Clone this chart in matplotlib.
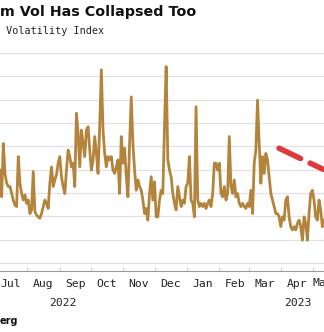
import matplotlib
matplotlib.use("Agg")
import numpy as np
import pandas as pd
import matplotlib.pyplot as plt
import matplotlib.dates as mdates

# index level, evenly spaced from early Jul 2022 to mid May 2023
vol_2022 = [29.9, 24.2, 35.6, 29.2, 27.1, 26.4, 26.4, 24.9, 23.5, 22.4, 22.1, 32.8,
            27.1, 24.9, 23.5, 24.6, 22.8, 23.5, 20.6, 21.4, 29.6, 21.0, 20.3, 19.9,
            19.6, 20.6, 22.1, 23.5, 22.8, 21.7, 27.1, 30.6, 26.4, 27.8, 28.9, 31.4,
            32.8, 28.5, 26.4, 24.9, 29.9, 34.2, 32.8, 30.6, 31.4, 26.4, 42.1, 37.8,
            30.6, 38.5, 35.6, 32.8, 38.5, 39.2, 34.2, 29.9, 32.1, 37.1, 33.5, 29.2,
            39.2, 51.4, 38.5, 33.5, 30.6, 32.8, 32.1, 32.8, 29.9, 29.2, 30.6, 32.1,
            24.9, 37.1, 31.4, 34.6, 28.5, 24.2, 35.6, 45.6, 35.6, 29.9, 25.6, 27.8,
            26.4, 25.6, 23.5, 20.6, 21.7, 19.2, 24.9, 28.5, 23.5, 27.4, 19.9, 19.9,
            23.5, 25.6]
vol_2023 = [24.9, 39.2, 52.1, 32.1, 29.9, 28.5, 24.9, 22.8, 21.4, 26.4, 24.2, 22.1,
            23.5, 22.8, 26.4, 27.1, 32.8, 23.5, 22.8, 19.9, 43.5, 23.5, 22.1, 22.8,
            22.1, 22.8, 21.7, 22.8, 23.5, 22.1, 24.9, 31.4, 31.4, 29.9, 31.4, 24.9,
            24.2, 26.4, 23.5, 24.9, 37.1, 26.4, 24.9, 27.8, 24.2, 24.9, 22.8, 22.1,
            22.8, 22.1, 21.7, 22.8, 22.1, 25.6, 20.6, 31.4, 34.2, 44.9, 35.6, 27.1,
            32.8, 29.2, 33.5, 32.1, 28.5, 24.9, 23.5, 22.1, 20.6, 20.6, 19.9, 17.8,
            19.9, 19.2, 23.5, 24.2, 19.9, 17.8, 17.1, 17.8, 17.1, 18.5, 19.2, 17.8,
            14.9, 19.9, 18.5, 14.9, 20.6, 24.9, 25.6, 23.5, 19.9, 19.2, 23.5, 21.4,
            17.8, 19.2]
values = vol_2022 + vol_2023
start, end = pd.Timestamp("2022-07-06"), pd.Timestamp("2023-05-12")
dates = pd.date_range(start, end, periods=len(values))

trend_dates = [pd.Timestamp("2023-03-30"), pd.Timestamp("2023-05-11")]
trend_vals = [34.6, 30.1]

fig = plt.figure(figsize=(3.24, 3.32), dpi=100)
ax = fig.add_axes([0, 61 / 332, 1, 218 / 332])

for g in range(10, 60, 5):
    ax.axhline(g, color="#e2e2e2", lw=0.9, zorder=0)

ax.plot(dates, values, color="#b5843c", lw=2.0, solid_joinstyle="round", zorder=2)
ax.plot(trend_dates, trend_vals, color="#e0393a", lw=4, dashes=(4.3, 1.9),
        dash_capstyle="round", solid_capstyle="round", zorder=3)

ax.set_xlim(start, end)
ax.set_ylim(8.3, 55)
for s in ["top", "left", "right"]:
    ax.spines[s].set_visible(False)
ax.spines["bottom"].set_color("#999999")
ax.spines["bottom"].set_linewidth(0.8)
ax.set_yticks([])

ax.xaxis.set_major_locator(mdates.MonthLocator())
ax.xaxis.set_major_formatter(plt.NullFormatter())
ax.xaxis.set_minor_locator(mdates.MonthLocator(bymonthday=16))
ax.xaxis.set_minor_formatter(mdates.DateFormatter("%b"))
ax.tick_params(axis="x", which="major", direction="in", length=3, color="#cccccc")
ax.tick_params(axis="x", which="minor", length=0, pad=6, labelsize=8.2,
               labelcolor="#222222")
for lab in ax.xaxis.get_minorticklabels():
    lab.set_family("DejaVu Sans Mono")

# last month label runs off the right edge, as in the original
ax.text(mdates.date2num(pd.Timestamp("2023-05-11")), -0.055, "May",
        transform=ax.get_xaxis_transform(), ha="center", va="center",
        fontsize=8.2, family="DejaVu Sans Mono", color="#222222", clip_on=False)

years = ["2022", "2023"]
year_pos = [pd.Timestamp("2022-09-04"), pd.Timestamp("2023-04-17")]
for yl, yp in zip(years, year_pos):
    ax.text(mdates.date2num(yp), -0.145, yl, transform=ax.get_xaxis_transform(),
            ha="center", va="center", fontsize=8.2, family="DejaVu Sans Mono",
            color="#222222")

fig.text(0.0, 1 - 12 / 332, "m Vol Has Collapsed Too", fontsize=10.3,
         fontweight="bold", ha="left", va="center", color="#111111")
fig.text(0.0, 1 - 31 / 332, " Volatility Index", fontsize=7.3,
         family="DejaVu Sans Mono", ha="left", va="center", color="#222222")
fig.text(0.0, 1 - 321 / 332, "erg", fontsize=7, fontweight="bold",
         ha="left", va="center", color="#111111")

fig.savefig("out.png", dpi=100)
